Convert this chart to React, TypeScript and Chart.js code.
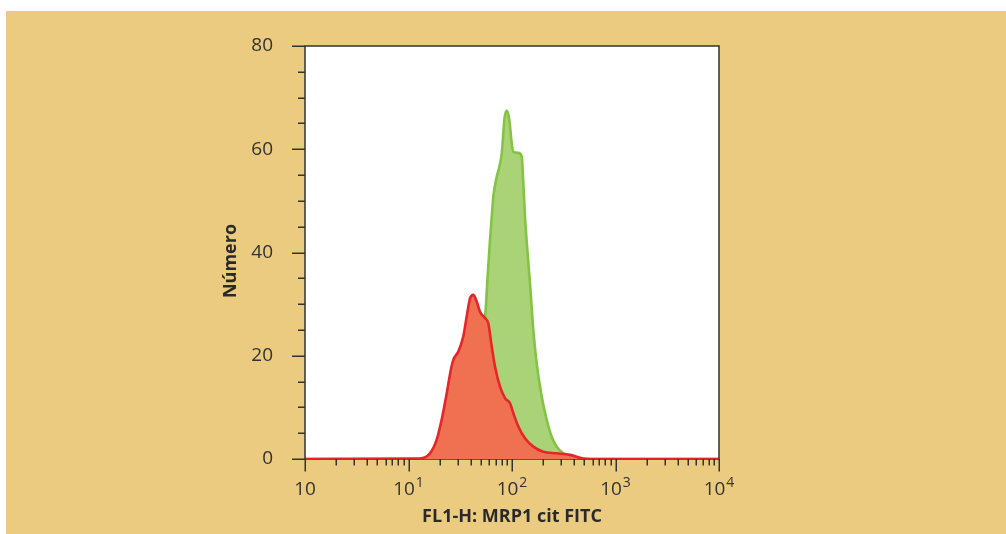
import React, { useEffect, useRef } from "react";
import { Chart, registerables } from "chart.js";

Chart.register(...registerables);

// Fluorescence intensity (log scale) and cell counts
const redX = [1, 12.9, 16.1, 18.7, 20.9, 23.4, 25.6, 27.1, 30.3, 33.8, 36.5, 39.3, 42.3, 45.6, 49.1, 54.8, 59.0, 63.7, 68.5, 76.6, 85.6, 95.7, 102.9, 115.1, 133.6, 160.6, 200.7, 270.3, 363.4, 488.6, 708.6, 10000];
const redY = [0, 0.1, 1.1, 3.7, 7.6, 12.7, 17.2, 19.2, 20.8, 23.7, 27.6, 31.1, 31.8, 30.5, 28.5, 27.3, 26.3, 21.8, 17.9, 14.0, 11.8, 10.8, 8.9, 6.3, 4.0, 2.4, 1.4, 1.1, 0.8, 0.1, 0, 0];

const greenX = [1, 20, 28.1, 35.1, 41.1, 46.9, 51.3, 53.6, 56.1, 58.0, 59.3, 61.3, 63.7, 66.0, 70.0, 75.4, 79.6, 82.4, 84.3, 88.9, 94.2, 99.3, 102.9, 115.1, 124.1, 128.6, 133.6, 140.6, 149.3, 160.6, 173.2, 193.6, 216.4, 241.9, 270.3, 313.1, 388.5, 507.5, 10000];
const greenY = [0, 0, 0.5, 2, 5, 11, 18, 24, 30, 35, 38, 42.4, 46.9, 50.8, 54.0, 56.6, 59.2, 63.1, 65.7, 67.5, 65.7, 61.2, 59.5, 59.3, 58.6, 53.4, 46.9, 40.5, 34.0, 25.0, 18.5, 12.1, 7.6, 4.3, 2.4, 1.1, 0.4, 0, 0];

const xTickValues = [1, 10, 100, 1000, 10000];
const xTickBases = ["10", "10", "10", "10", "10"];
const xTickExponents = ["", "1", "2", "3", "4"];
const yTickValues = [0, 20, 40, 60, 80];
const yMinorStep = 5;

const xTitle = "FL1-H: MRP1 cit FITC";
const yTitle = "Número";

const BG = "#EBCB7F";
const AXIS = "#333333";
const FONT = "'Open Sans', 'Noto Sans', sans-serif";

const framePlugin = {
  id: "framePlugin",
  beforeDraw(chart: any) {
    const { ctx, chartArea } = chart;
    ctx.save();
    ctx.fillStyle = "#FFFFFF";
    ctx.fillRect(0, 0, chart.width, chart.height);
    ctx.fillStyle = BG;
    ctx.fillRect(6, 11, chart.width - 6, chart.height - 11);
    ctx.fillStyle = "#FFFFFF";
    ctx.fillRect(chartArea.left, chartArea.top, chartArea.right - chartArea.left, chartArea.bottom - chartArea.top);
    ctx.restore();
  },
  beforeDatasetsDraw(chart: any) {
    const { ctx, chartArea } = chart;
    ctx.save();
    ctx.strokeStyle = AXIS;
    ctx.lineWidth = 1.5;
    ctx.beginPath();
    ctx.moveTo(chartArea.left, chartArea.bottom);
    ctx.lineTo(chartArea.right, chartArea.bottom);
    ctx.stroke();
    ctx.restore();
  },
  afterDatasetsDraw(chart: any) {
    const { ctx, chartArea } = chart;
    const xs = chart.scales.x;
    const ys = chart.scales.y;
    ctx.save();
    ctx.strokeStyle = AXIS;
    ctx.lineWidth = 1.5;
    // frame: left, top, right
    ctx.beginPath();
    ctx.moveTo(chartArea.left, chartArea.bottom);
    ctx.lineTo(chartArea.left, chartArea.top);
    ctx.lineTo(chartArea.right, chartArea.top);
    ctx.lineTo(chartArea.right, chartArea.bottom);
    ctx.stroke();
    // x ticks
    ctx.beginPath();
    for (let d = 0; d < xTickValues.length; d++) {
      const dec = xTickValues[d];
      const px = Math.round(xs.getPixelForValue(dec)) + 0.25;
      ctx.moveTo(px, chartArea.bottom);
      ctx.lineTo(px, chartArea.bottom + 12.5);
      if (d < xTickValues.length - 1) {
        for (let m = 2; m <= 9; m++) {
          const mp = Math.round(xs.getPixelForValue(dec * m)) + 0.25;
          ctx.moveTo(mp, chartArea.bottom);
          ctx.lineTo(mp, chartArea.bottom + 6.5);
        }
      }
    }
    // y ticks
    const yMax = yTickValues[yTickValues.length - 1];
    for (let v = 0; v <= yMax; v += yMinorStep) {
      const py = Math.round(ys.getPixelForValue(v)) + 0.25;
      const major = yTickValues.indexOf(v) >= 0;
      ctx.moveTo(chartArea.left, py);
      ctx.lineTo(chartArea.left - (major ? 13 : 7), py);
    }
    ctx.stroke();

    // x tick labels with superscript exponents
    ctx.fillStyle = AXIS;
    ctx.textBaseline = "alphabetic";
    const baseFont = `19px ${FONT}`;
    const expFont = `14px ${FONT}`;
    for (let d = 0; d < xTickValues.length; d++) {
      const px = xs.getPixelForValue(xTickValues[d]);
      ctx.font = baseFont;
      const bw = ctx.measureText(xTickBases[d]).width;
      ctx.font = expFont;
      const ew = xTickExponents[d] ? ctx.measureText(xTickExponents[d]).width + 1 : 0;
      const start = px - (bw + ew) / 2;
      const baseY = chartArea.bottom + 36;
      ctx.font = baseFont;
      ctx.textAlign = "left";
      ctx.fillText(xTickBases[d], start, baseY);
      if (xTickExponents[d]) {
        ctx.font = expFont;
        ctx.fillText(xTickExponents[d], start + bw + 1, baseY - 8);
      }
    }

    // y axis title
    ctx.save();
    ctx.translate(231, 261);
    ctx.rotate(-Math.PI / 2);
    ctx.font = `bold 18px ${FONT}`;
    ctx.fillStyle = "#2a2a2a";
    ctx.textAlign = "center";
    ctx.textBaseline = "middle";
    ctx.fillText(yTitle, 0, 0);
    ctx.restore();

    ctx.restore();
  },
};

export default function App() {
  const ref = useRef<HTMLCanvasElement | null>(null);

  useEffect(() => {
    if (!ref.current) return;
    const chart = new Chart(ref.current, {
      type: "line",
      data: {
        datasets: [
          {
            label: "control",
            data: redX.map((x, i) => ({ x, y: redY[i] })),
            borderColor: "#E62529",
            backgroundColor: "#F07151",
            borderWidth: 2.6,
            fill: "origin",
            pointRadius: 0,
            cubicInterpolationMode: "monotone",
          },
          {
            label: "MRP1",
            data: greenX.map((x, i) => ({ x, y: greenY[i] })),
            borderColor: "#84C443",
            backgroundColor: "#AAD276",
            borderWidth: 2.6,
            fill: "origin",
            pointRadius: 0,
            cubicInterpolationMode: "monotone",
          },
        ],
      },
      options: {
        responsive: false,
        animation: false,
        devicePixelRatio: 1,
        layout: { padding: { left: 0, top: 46, right: 287, bottom: 0 } },
        plugins: {
          legend: { display: false },
          tooltip: { enabled: false },
        },
        scales: {
          x: {
            type: "logarithmic",
            min: 1,
            max: 10000,
            grid: { display: false },
            border: { display: false },
            afterBuildTicks: (scale: any) => {
              scale.ticks = xTickValues.map((v) => ({ value: v }));
            },
            afterFit: (scale: any) => {
              scale.height = 75;
            },
            ticks: {
              display: false,
            },
            title: {
              display: true,
              text: xTitle,
              color: "#2a2a2a",
              font: { family: FONT, size: 18, weight: "bold" },
              padding: { top: 0, bottom: 6 },
            },
          },
          y: {
            type: "linear",
            min: 0,
            max: 80,
            grid: { display: false },
            border: { display: false },
            afterBuildTicks: (scale: any) => {
              scale.ticks = yTickValues.map((v) => ({ value: v }));
            },
            afterFit: (scale: any) => {
              scale.width = 305;
            },
            ticks: {
              padding: 24,
              color: AXIS,
              font: { family: FONT, size: 19 },
            },
            title: { display: false },
          },
        },
      },
      plugins: [framePlugin],
    });
    return () => chart.destroy();
  }, []);

  return (
    <div style={{ position: "absolute", left: 0, top: 0, width: 1006, height: 534 }}>
      <canvas ref={ref} width={1006} height={534} style={{ display: "block" }} />
    </div>
  );
}
